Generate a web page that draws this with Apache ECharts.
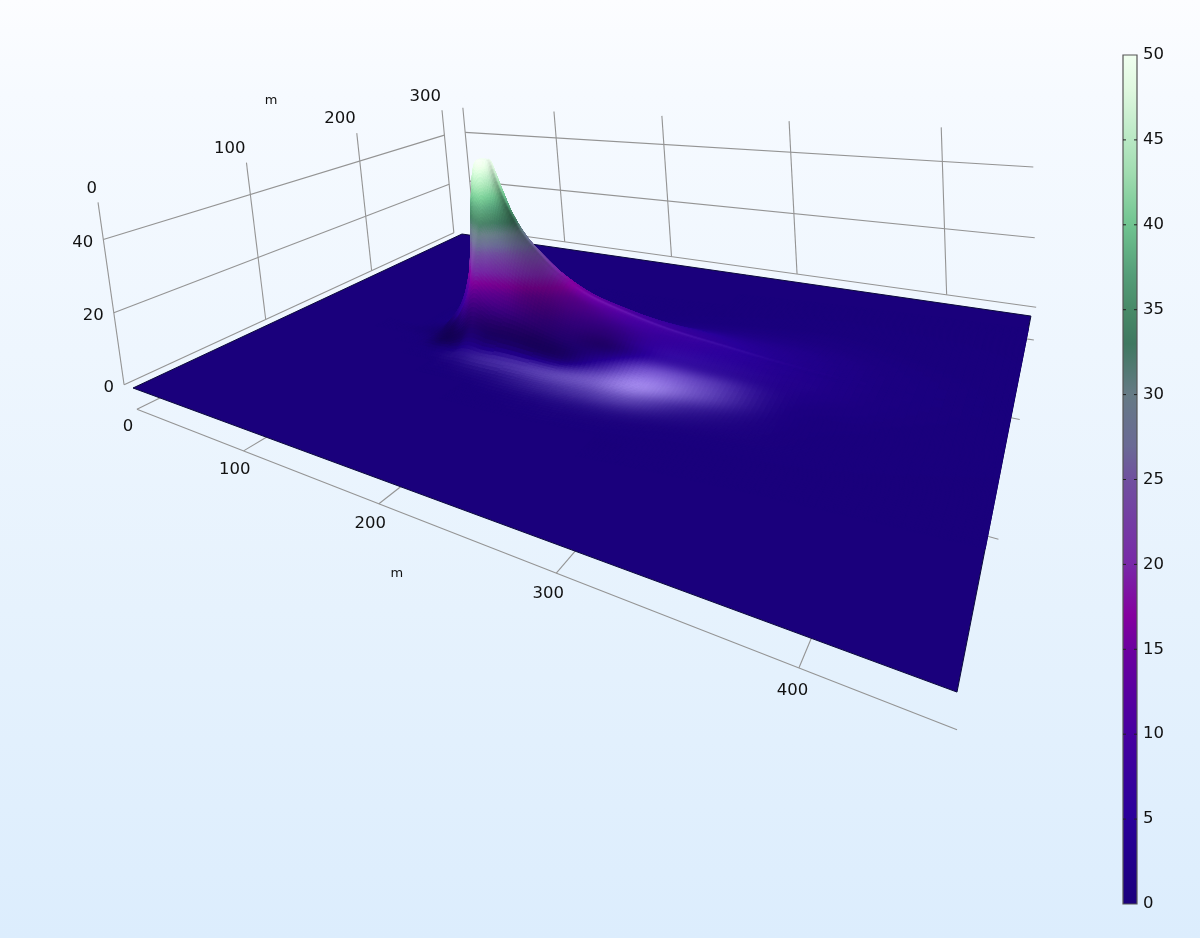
<!DOCTYPE html>
<html><head><meta charset="utf-8">
<style>html,body{margin:0;padding:0;background:#fff}#c{width:1200px;height:938px}</style>
<script src="https://cdn.jsdelivr.net/npm/echarts@6/dist/echarts.min.js"></script>
</head><body><div id="c"></div>
<script>
// ---- values ----
var xTicks = [0,100,200,300,400];
var yTicks = [0,100,200,300];
var zTicks = [0,20,40];
var zGrid = [20,40];
var backWallX = [-27,77,183,289,395];
var rightStubs = [79,173,266];
var colorbarTicks = [0,5,10,15,20,25,30,35,40,45,50];
var colorValues = [0,5,10,15,17,20,25,27,30,33,35,37,40,43,45,48,50];
var colorHex = ['#1a007c','#2a009a','#4600a0','#6c00a0','#85009f','#7828a8','#70509f','#6a6a95','#657a85','#3f7860','#488a68','#549d78','#70c490','#a0dcb0','#b9e8c4','#e0f8e0','#f0fff0'];
// distance from the source along the plume (m), and across it (m)
var sourceX = 128, sourceY = 154;
var alongOffsets  = [-80,-50,-32,-24,-19,-15,-11,-6,-2,2,6,10,15,22,32,45,60,80,105,135,170,210,260,320];
var ridgeDrift    = [0,0,0,0,0,0,0,0,0,0,0,0,0,0,0,0,0,1,3,6,10,14,18,22];
var acrossOffsets = [0,2,4,7,11,16,22,30,40,52,66,85,105];
var height0  = [0,0,1,5.5,10,15,22,40,48,50,50,50,44,37,30,24.5,19.5,15,11.5,8.2,5.6,3,1,.3];
var height1  = [0,0,1,5.3,9.5,14,21,38,47,50,50,50,43.6,36.7,29.8,24.3,19.4,14.9,11.5,8.2,5.6,3,1,.3];
var height2  = [0,0,.9,5,8.5,12.5,18,31,42,47,49,48,42.5,35.7,29,23.7,19,14.5,11.2,8,5.5,3,1,.3];
var height3  = [0,0,.8,4.3,7,9,12,20,32,41,44,44,39.5,33,27.5,22.6,18.1,13.8,10.7,7.6,5.2,2.9,1,.3];
var height4  = [0,0,.6,3.5,5.5,7,9,14,21,28,33,36,33.6,28.5,24,20,16.2,12.1,9.5,7,4.8,2.8,.95,.3];
var height5  = [0,0,.35,2.5,4,5.5,7,10.5,14,19,24,28,24.9,21.5,18.5,16,13,9.6,7.8,6,4.2,2.6,.9,.28];
var height6  = [0,0,.15,.9,2.2,3.5,5,7.5,10,13,16,17,15,13,11.7,10.5,8.6,6.5,5.5,4.6,3.4,2.3,.8,.26];
var height7  = [0,0,.05,.3,.5,.9,1.3,2,3,4,5.5,6,5.9,5.1,4.9,4.6,4,3.2,2.8,2.9,2.4,1.7,.65,.2];
var height8  = [0,0,0,.07,.13,.2,.25,.3,.3,.4,.9,1.2,1.2,1,1.1,1.2,1.2,.9,1,1.3,1.4,1.1,.45,.17];
var height9  = [0,0,0,0,0,0,0,0,.01,.03,.1,.1,.1,.1,.1,.14,.15,.14,.18,.38,.57,.6,.3,.1];
var height10 = [0,0,0,0,0,0,0,0,0,0,0,0,0,0,0,.01,0,.01,.02,.06,.15,.23,.15,.05];
var height11 = [0,0,0,0,0,0,0,0,0,0,0,0,0,0,0,0,0,0,0,0,.01,.04,.03,.02];
var height12 = [0,0,0,0,0,0,0,0,0,0,0,0,0,0,0,0,0,0,0,0,0,0,0,0];
var heights = [height0,height1,height2,height3,height4,height5,height6,height7,height8,height9,height10,height11,height12];
// surface brightness on the viewer-facing flank: below 0 shadow, above 0 gloss
var shine0  = [0,0,0,0,0,.03,.05,.03,.03,.03,0,-.05,-.2,-.3,-.25,-.2,-.1,.1,.14,.12,.08,.02,0,0];
var shine1  = [0,0,0,0,0,.03,.05,.05,.05,.05,.05,0,-.15,-.25,-.25,-.2,-.1,.02,.05,.04,.03,0,0,0];
var shine2  = [0,0,0,0,0,.03,.05,.05,.08,.1,.08,.05,-.05,-.15,-.2,-.2,-.15,-.05,0,.02,.02,0,0,0];
var shine3  = [0,0,0,-.1,-.05,0,.03,.05,.08,.1,.1,.08,.03,-.05,-.15,-.2,-.2,-.15,-.05,0,.02,.01,0,0];
var shine4  = [0,0,-.05,-.15,-.1,0,.03,.05,.08,.1,.1,.1,.06,0,-.1,-.2,-.25,-.2,-.15,0,.03,.01,0,0];
var shine5  = [0,0,-.1,-.25,-.22,-.1,0,.03,.03,.03,.03,.03,.02,-.05,-.12,-.25,-.3,-.25,-.25,.03,.06,.02,0,0];
var shine6  = [0,-.02,-.1,-.28,-.32,-.33,-.32,-.22,-.1,-.05,-.05,-.05,-.1,-.15,-.2,-.28,-.33,-.3,-.3,.1,.12,.02,0,0];
var shine7  = [0,0,-.03,-.18,-.28,-.33,-.36,-.36,-.36,-.35,-.33,-.3,-.33,-.36,-.38,-.38,-.38,-.28,.15,.6,.42,.04,0,0];
var shine8  = [0,0,0,-.01,-.03,-.04,-.02,0,.03,.06,.08,.1,.14,.2,.25,.3,.35,.45,.6,.9,.5,.04,0,0];
var shine9  = [0,0,0,0,0,0,0,0,.01,.02,.02,.03,.04,.06,.08,.1,.16,.25,.35,.45,.18,.02,0,0];
var shine10 = [0,0,0,0,0,0,0,0,0,0,0,0,0,0,0,.01,.02,.04,.07,.08,.03,.01,0,0];
var shine11 = [0,0,0,0,0,0,0,0,0,0,0,0,0,0,0,0,0,0,0,0,0,0,0,0];
var shine12 = [0,0,0,0,0,0,0,0,0,0,0,0,0,0,0,0,0,0,0,0,0,0,0,0];
var shines = [shine0,shine1,shine2,shine3,shine4,shine5,shine6,shine7,shine8,shine9,shine10,shine11,shine12];

// ---- camera: world metres to picture position ----
var plate = {x0:-29, x1:448, y0:0, y1:300};
var wallX = -39, backY = 315, frontY = -13.5, zTop = 50;
var cam = {a:365.5,b:564.8,c:133, d:-27.5,e:-34.5,f:388, g:-.4791,h:.5105, p:-.574,q:-3.78,r:-.000482};
function project(X,Y,Z){
  var u=(X-plate.x0)/(plate.x1-plate.x0), v=(Y-plate.y0)/(plate.y1-plate.y0);
  var w=cam.g*u+cam.h*v+1+cam.r*Z;
  return [(cam.a*u+cam.b*v+cam.c+cam.p*Z)/w,(cam.d*u+cam.e*v+cam.f+cam.q*Z)/w];
}
// ---- colours ----
function hexRgb(h){return [parseInt(h.substr(1,2),16),parseInt(h.substr(3,2),16),parseInt(h.substr(5,2),16)];}
var rgbStops=colorHex.map(hexRgb);
function cmap(z){
  z=Math.max(0,Math.min(50,z));
  for(var i=1;i<colorValues.length;i++){ if(z<=colorValues[i]){
    var t=(z-colorValues[i-1])/(colorValues[i]-colorValues[i-1]),a=rgbStops[i-1],b=rgbStops[i];
    return [a[0]+(b[0]-a[0])*t,a[1]+(b[1]-a[1])*t,a[2]+(b[2]-a[2])*t];
  }}
  return rgbStops[rgbStops.length-1];
}
function shade(z,s){
  var c=cmap(z),o;
  if(s<0){var m=1+s;o=[c[0]*m,c[1]*m,c[2]*m];}
  else o=[c[0]+s*145,c[1]+s*150,c[2]+s*115];
  return 'rgb('+Math.min(255,Math.round(o[0]))+','+Math.min(255,Math.round(o[1]))+','+Math.min(255,Math.round(o[2]))+')';
}
// ---- surface grid nodes: far side first ----
var rowRefs=[];
for(var i=acrossOffsets.length-1;i>=1;i--) rowRefs.push({k:i,side:1});
for(i=0;i<acrossOffsets.length;i++) rowRefs.push({k:i,side:-1});
var nodes=rowRefs.map(function(ref){
  return alongOffsets.map(function(d,c){
    return [sourceX+d, sourceY+ridgeDrift[c]+ref.side*acrossOffsets[ref.k], heights[ref.k][c], ref.side>0?0:shines[ref.k][c]];
  });
});
var cells=[];
for(var r=0;r<rowRefs.length-1;r++)for(var c=0;c<alongOffsets.length-1;c++)cells.push([r,c]);
// smooth (Gouraud-like) drawing of each cell between its table nodes
function cr(t){var t2=t*t,t3=t2*t;return [(-t3+2*t2-t)/2,(3*t3-5*t2+2)/2,(-3*t3+4*t2+t)/2,(t3-t2)/2];}
function sample(r,c,tr,tc){
  var wr=cr(tr),wc=cr(tc),o=[0,0,0,0];
  for(var a=0;a<4;a++){var rr=Math.max(0,Math.min(nodes.length-1,r+a-1));
    for(var b=0;b<4;b++){var cc=Math.max(0,Math.min(alongOffsets.length-1,c+b-1)),w=wr[a]*wc[b],nd=nodes[rr][cc];
      o[0]+=w*nd[0];o[1]+=w*nd[1];o[2]+=w*nd[2];o[3]+=w*nd[3];}}
  o[2]=Math.max(0,Math.min(50,o[2]));
  return o;
}
var STEP=4.5;
function cellItem(params,api){
  var idx=cells[params.dataIndex],r=idx[0],c=idx[1];
  var corners=[nodes[r][c],nodes[r][c+1],nodes[r+1][c+1],nodes[r+1][c]];
  var nearlyFlat=corners.every(function(n){return n[2]<.005&&Math.abs(n[3])<.005;});
  if(nearlyFlat)return {type:'group',children:[]};
  var C=corners.map(function(n){return api.coord(project(n[0],n[1],n[2]));});
  var e=Math.max(Math.hypot(C[1][0]-C[0][0],C[1][1]-C[0][1]),Math.hypot(C[3][0]-C[0][0],C[3][1]-C[0][1]),Math.hypot(C[2][0]-C[1][0],C[2][1]-C[1][1]),Math.hypot(C[2][0]-C[3][0],C[2][1]-C[3][1]));
  var n=Math.max(1,Math.min(14,Math.ceil(e/STEP)));
  var pts=[],vals=[],i,j;
  for(i=0;i<=n;i++){pts[i]=[];vals[i]=[];for(j=0;j<=n;j++){var q=sample(r,c,i/n,j/n);vals[i][j]=q;pts[i][j]=api.coord(project(q[0],q[1],q[2]));}}
  var children=[];
  for(i=0;i<n;i++)for(j=0;j<n;j++){
    var a=vals[i][j],b=vals[i][j+1],d=vals[i+1][j+1],f=vals[i+1][j];
    var col=shade((a[2]+b[2]+d[2]+f[2])/4,(a[3]+b[3]+d[3]+f[3])/4);
    children.push({type:'polygon',shape:{points:[pts[i][j],pts[i][j+1],pts[i+1][j+1],pts[i+1][j]]},style:{fill:col,stroke:col,lineWidth:.8}});
  }
  return {type:'group',children:children};
}
// ---- axes box ----
var segs=[];
function seg(a,b){segs.push([a,b]);}
yTicks.forEach(function(y){seg([wallX,y,0],[wallX,y,zTop]);});
zGrid.forEach(function(z){seg([wallX,0,z],[wallX,300,z]);});
seg([wallX,0,0],[wallX,300,0]);
backWallX.forEach(function(x){seg([x,backY,0],[x,backY,zTop]);});
zGrid.concat([0]).forEach(function(z){seg([backWallX[0],backY,z],[450,backY,z]);});
seg([0,frontY,0],[450,frontY,0]);
xTicks.forEach(function(x){seg([x,frontY,0],[x,0,0]);});
rightStubs.forEach(function(y){seg([plate.x1,y,0],[plate.x1+4,y,0]);});

var labels=[];
xTicks.forEach(function(x){labels.push({w:[x,frontY-3.4,0],dx:-3,dy:15,t:String(x),align:'center',size:16.5});});
yTicks.forEach(function(y){labels.push({w:[wallX,y,zTop],dx:-1,dy:-14,t:String(y),align:'right',size:16.5});});
zTicks.forEach(function(z){labels.push({w:[wallX,0,z],dx:-10,dy:3,t:String(z),align:'right',size:16.5});});
labels.push({w:[wallX,120,zTop],dx:0,dy:-55,t:'m',align:'center',size:13});
labels.push({w:[200,frontY,0],dx:18,dy:70,t:'m',align:'center',size:13});

function idxData(a){return a.map(function(_,i){return [i];});}
var chart=echarts.init(document.getElementById('c'),null,{renderer:'canvas'});
var barStops=colorValues.map(function(v,i){return {offset:1-v/50,color:colorHex[i]};}).reverse();
chart.setOption({
  animation:false,
  backgroundColor:new echarts.graphic.LinearGradient(0,0,0,1,[{offset:0,color:'#fcfdff'},{offset:.1,color:'#f6faff'},{offset:.65,color:'#e6f2fd'},{offset:1,color:'#dcedfd'}]),
  grid:[{left:0,right:0,top:0,bottom:0,show:false},{left:1123,right:63,top:55,bottom:34,show:false}],
  xAxis:[{type:'value',min:0,max:1200,show:false,gridIndex:0},{type:'value',min:0,max:1,show:false,gridIndex:1}],
  yAxis:[
    {type:'value',min:0,max:938,inverse:true,show:false,gridIndex:0},
    {type:'value',min:0,max:50,interval:5,gridIndex:1,position:'right',
     axisLine:{show:false},axisTick:{show:false},splitLine:{show:false},
     axisLabel:{show:true,fontFamily:'DejaVu Sans',fontSize:16.5,color:'#111',margin:6,padding:[3,0,0,0]}}
  ],
  series:[
    {type:'custom',name:'walls',silent:true,coordinateSystem:'cartesian2d',xAxisIndex:0,yAxisIndex:0,clip:false,z:1,data:idxData(segs),
     renderItem:function(p,api){var s=segs[p.dataIndex],a=api.coord(project.apply(null,s[0])),b=api.coord(project.apply(null,s[1]));
       return {type:'line',shape:{x1:a[0],y1:a[1],x2:b[0],y2:b[1]},style:{stroke:'#949494',lineWidth:1.1}};}},
    {type:'custom',name:'plate',silent:true,coordinateSystem:'cartesian2d',xAxisIndex:0,yAxisIndex:0,clip:false,z:2,data:[[0]],
     renderItem:function(p,api){
       var pts=[[plate.x0,plate.y0],[plate.x1,plate.y0],[plate.x1,plate.y1],[plate.x0,plate.y1]].map(function(w){return api.coord(project(w[0],w[1],0));});
       return {type:'polygon',shape:{points:pts},style:{fill:colorHex[0],stroke:'#0b0a3c',lineWidth:1}};}},
    {type:'custom',name:'surface',silent:true,coordinateSystem:'cartesian2d',xAxisIndex:0,yAxisIndex:0,clip:false,z:3,progressive:0,data:idxData(cells),renderItem:cellItem},
    {type:'custom',name:'labels',silent:true,coordinateSystem:'cartesian2d',xAxisIndex:0,yAxisIndex:0,clip:false,z:4,data:idxData(labels),
     renderItem:function(p,api){var l=labels[p.dataIndex],a=api.coord(project.apply(null,l.w));
       return {type:'text',style:{x:a[0]+l.dx,y:a[1]+l.dy,text:l.t,fill:'#111',fontSize:l.size,fontFamily:'DejaVu Sans',align:l.align,verticalAlign:'middle'}};}},
    {type:'custom',name:'colorbar',silent:true,coordinateSystem:'cartesian2d',xAxisIndex:1,yAxisIndex:1,z:2,data:[[0]],
     renderItem:function(p,api){var a=api.coord([0,50]),b=api.coord([1,0]);
       var kids=[{type:'rect',shape:{x:a[0],y:a[1],width:b[0]-a[0],height:b[1]-a[1]},
         style:{fill:new echarts.graphic.LinearGradient(0,0,0,1,barStops),stroke:'#555',lineWidth:1.2}}];
       colorbarTicks.slice(1,-1).forEach(function(t){var y=api.coord([0,t])[1];
         kids.push({type:'line',shape:{x1:a[0],y1:y,x2:a[0]+3,y2:y},style:{stroke:'#222',lineWidth:1}});
         kids.push({type:'line',shape:{x1:b[0]-3,y1:y,x2:b[0],y2:y},style:{stroke:'#222',lineWidth:1}});});
       return {type:'group',children:kids};}}
  ]
});
</script></body></html>
